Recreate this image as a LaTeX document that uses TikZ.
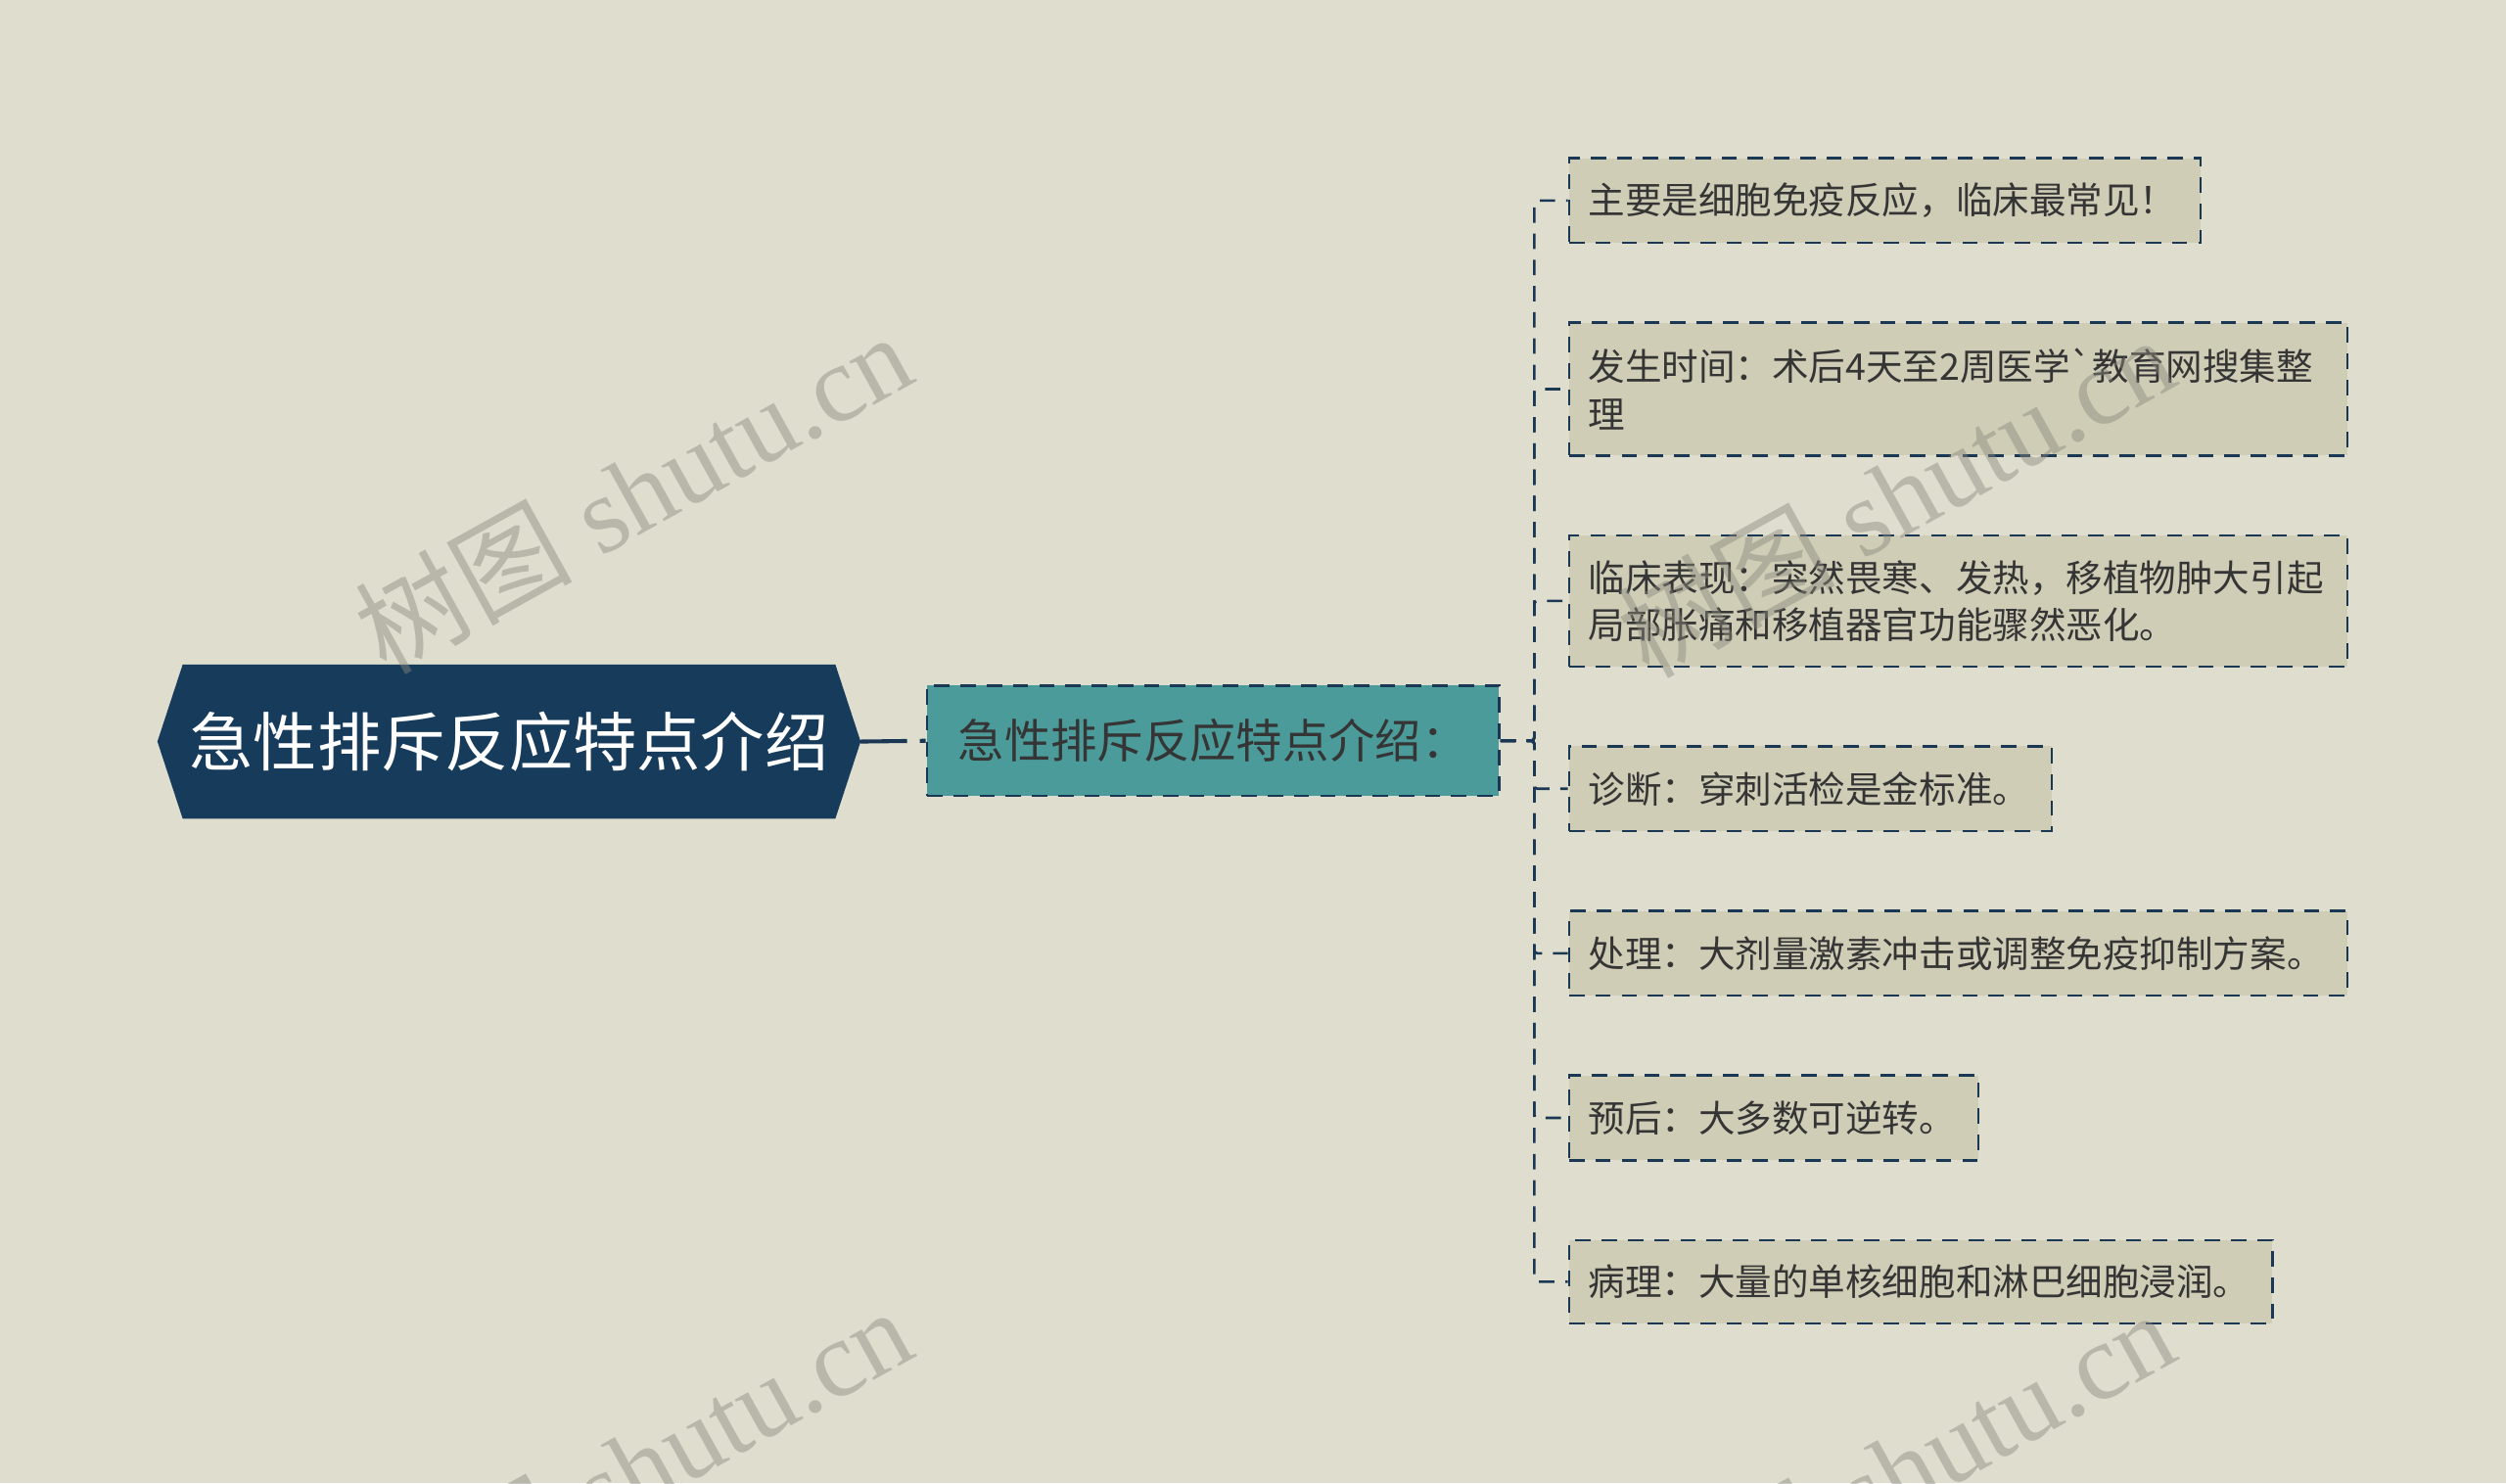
\documentclass[tikz,border=0pt]{standalone}
\usepackage{fontspec}
\newfontfamily\cjk{Noto Sans CJK SC}[Ligatures=TeXOff]
\newfontfamily\wmserif{Liberation Serif}
\usetikzlibrary{backgrounds}
\definecolor{bgc}{HTML}{DFDECE}
\definecolor{leaffill}{HTML}{CFCDB6}
\definecolor{rootfill}{HTML}{173B5B}
\definecolor{subfill}{HTML}{4B9B9A}
\definecolor{navy}{HTML}{1A3753}
\definecolor{txt}{HTML}{353535}
\definecolor{wmgray}{HTML}{8A897E}
\tikzset{
  rootnode/.style={minimum width=408pt, minimum height=96pt, inner sep=0pt,
    text=white, font=\cjk\fontsize{40}{44}\selectfont},
  subnode/.style={draw=navy, fill=subfill, line width=1.6pt, dash pattern=on 9.6pt off 6.8pt,
    minimum width=358pt, minimum height=69pt, inner sep=0pt, text=txt,
    font=\cjk\fontsize{29}{32}\selectfont},
  leaf/.style={draw=navy, fill=leaffill, line width=1.6pt, dash pattern=on 9.6pt off 6.8pt,
    anchor=west, inner xsep=12pt, inner ysep=0pt, align=left, text=txt,
    font=\cjk\fontsize{23}{29.5}\selectfont},
  branch/.style={draw=navy, line width=1.6pt, dash pattern=on 9.6pt off 6.8pt, rounded corners=2pt},
  mainlink/.style={draw=navy, line width=2.5pt, dash pattern=on 29pt off 8pt},
  wm/.style={text=wmgray, opacity=0.45, rotate=29, inner sep=0pt,
    font=\wmserif\fontsize{68}{68}\selectfont},
}
\begin{document}
\begin{tikzpicture}[x=1pt,y=-1pt]
\useasboundingbox (0,0) rectangle (1568,928);
\clip (0,0) rectangle (1568,928);
\begin{pgfonlayer}{background}
\fill[bgc] (0,0) rectangle (1568,928);
\end{pgfonlayer}

% root
\node[rootnode] (root) at (318.5,464) {急性排斥反应特点介绍};
\coordinate (rootL) at (98.5,464);
\coordinate (rootR) at (538.5,464);
\begin{pgfonlayer}{background}
\fill[rootfill] (rootL) -- (root.north west) -- (root.north east) -- (rootR)
  -- (root.south east) -- (root.south west) -- cycle;
\end{pgfonlayer}

% sub
\node[subnode] (sub) at (759,463.5) {急性排斥反应特点介绍：};
\draw[mainlink] (rootR) -- (sub.west);

% leaves
\node[leaf, text width=371pt, minimum height=53pt] (l1) at (981,125.5) {主要是细胞免疫反应，临床最常见！};
\node[leaf, text width=463pt, minimum height=83pt] (l2) at (981,243.5) {发生时间：术后4天至2周医学`教育网搜集整\\理};
\node[leaf, text width=463pt, minimum height=82pt] (l3) at (981,376) {临床表现：突然畏寒、发热，移植物肿大引起\\局部胀痛和移植器官功能骤然恶化。};
\node[leaf, text width=278pt, minimum height=53pt] (l4) at (981,493.5) {诊断：穿刺活检是金标准。};
\node[leaf, text width=463pt, minimum height=53pt] (l5) at (981,596.5) {处理：大剂量激素冲击或调整免疫抑制方案。};
\node[leaf, text width=232pt, minimum height=53pt] (l6) at (981,699.5) {预后：大多数可逆转。};
\node[leaf, text width=416pt, minimum height=52pt] (l7) at (981,802) {病理：大量的单核细胞和淋巴细胞浸润。};

\coordinate (sp) at (960,463.5);
\foreach \n in {l1,l2,l3,l4,l5,l6,l7}{
  \draw[branch] (sub.east) -- (sp) |- (\n.west);
}

% watermarks
\node[wm] (w1) at (396,308) {{\cjk 树图} shutu.cn};
\node[wm] (w2) at (1186,310) {{\cjk 树图} shutu.cn};
\node[wm] (w3) at (396,918) {{\cjk 树图} shutu.cn};
\node[wm] (w4) at (1186,920) {{\cjk 树图} shutu.cn};
\end{tikzpicture}
\end{document}
